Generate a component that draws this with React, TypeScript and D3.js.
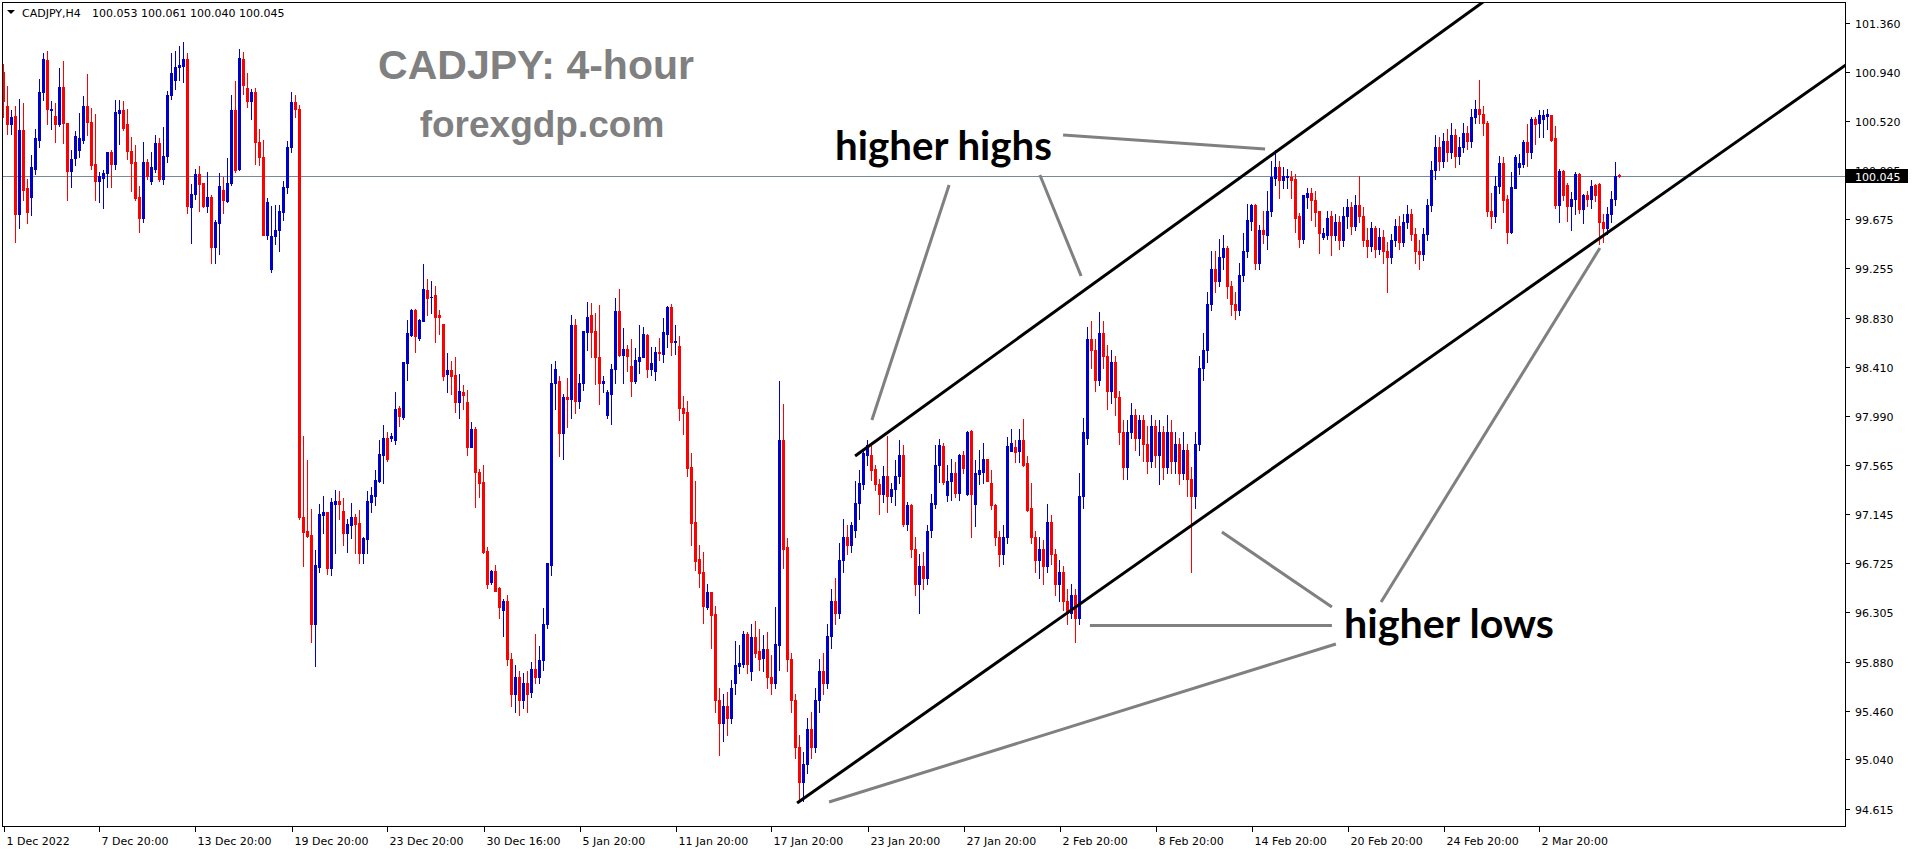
import React from 'react';
import * as d3 from 'd3';

// one row per H4 bar: [open, high, low, close]
type Bar = [number, number, number, number];

const decBars: Bar[] = [
  [100.94, 101.01, 100.55, 100.69], [100.65, 100.82, 100.41, 100.49], [100.49, 100.61, 100.41, 100.55],
  [100.56, 100.65, 99.48, 99.72], [99.72, 100.71, 99.6, 100.44], [100.44, 100.67, 99.84, 99.93],
  [99.94, 100.02, 99.64, 99.74], [99.87, 100.23, 99.71, 100.12], [100.11, 100.45, 100.06, 100.37],
  [100.36, 100.88, 100.3, 100.77], [100.77, 101.1, 100.7, 101.05], [101.04, 101.12, 100.49, 100.62],
  [100.61, 100.69, 100.45, 100.62], [100.56, 100.67, 100.34, 100.49], [100.49, 100.97, 100.48, 100.81],
  [100.81, 101.03, 100.33, 100.5], [100.5, 100.5, 99.84, 100.09], [100.09, 100.27, 99.95, 100.19],
  [100.2, 100.43, 100.14, 100.39], [100.27, 100.59, 100.21, 100.37], [100.36, 100.73, 100.33, 100.65],
  [100.65, 100.92, 100.4, 100.51], [100.51, 100.63, 100.11, 100.14], [100.15, 100.58, 99.84, 100.0],
  [100.0, 100.08, 99.82, 100.05], [100.03, 100.1, 99.77, 100.07], [100.07, 100.25, 99.95, 100.25],
  [100.25, 100.27, 99.95, 100.15], [100.15, 100.7, 100.11, 100.6], [100.59, 100.7, 100.32, 100.61],
  [100.61, 100.69, 100.44, 100.46], [100.49, 100.62, 100.19, 100.26], [100.26, 100.38, 99.92, 100.16],
  [100.17, 100.31, 99.84, 99.86], [99.87, 99.96, 99.57, 99.69], [99.69, 100.34, 99.65, 100.17],
  [100.17, 100.19, 100.02, 100.05], [100.0, 100.25, 99.98, 100.12], [100.11, 100.4, 100.08, 100.33],
  [100.33, 100.37, 100.0, 100.02], [100.02, 100.47, 99.98, 100.22], [100.22, 100.78, 100.17, 100.74],
  [100.74, 101.1, 100.71, 100.93], [100.87, 101.12, 100.79, 100.98], [100.98, 101.16, 100.87, 101.0],
  [100.99, 101.2, 100.85, 101.05], [101.05, 101.1, 99.73, 99.79], [99.78, 99.98, 99.47, 99.89],
  [99.89, 100.11, 99.85, 100.06], [100.06, 100.13, 99.75, 99.98], [99.99, 99.99, 99.78, 99.79],
  [99.79, 100.08, 99.74, 99.87], [99.87, 99.88, 99.3, 99.44], [99.44, 99.67, 99.3, 99.65],
  [99.64, 100.07, 99.38, 99.96], [99.93, 100.04, 99.73, 99.84], [99.83, 100.2, 99.82, 99.99],
  [99.99, 100.74, 99.97, 100.61], [100.61, 100.86, 100.08, 100.1], [100.11, 101.14, 100.1, 101.06],
  [101.05, 101.11, 100.75, 100.83], [100.8, 100.93, 100.64, 100.69], [100.69, 100.79, 100.54, 100.77],
  [100.77, 100.8, 100.15, 100.34], [100.34, 100.45, 100.14, 100.21], [100.21, 100.36, 99.54, 99.54],
  [99.54, 99.86, 99.51, 99.82], [99.25, 99.79, 99.22, 99.53], [99.53, 99.8, 99.46, 99.58],
  [99.58, 99.8, 99.4, 99.75], [99.74, 100.0, 99.67, 99.95], [99.95, 100.35, 99.9, 100.3],
  [100.3, 100.77, 100.25, 100.68], [100.68, 100.74, 100.55, 100.62], [100.62, 100.66, 97.1, 97.12],
  [97.12, 97.82, 96.7, 96.99], [97.0, 97.61, 96.95, 96.96], [96.97, 97.19, 96.05, 96.2],
  [96.2, 96.84, 95.84, 96.71], [96.69, 97.23, 96.65, 97.15], [97.14, 97.3, 96.98, 97.16],
  [97.16, 97.16, 96.63, 96.68], [96.68, 97.28, 96.62, 97.25], [97.23, 97.35, 96.81, 97.26],
  [97.26, 97.34, 97.1, 97.23], [97.17, 97.28, 96.88, 96.98], [96.98, 97.1, 96.82, 97.06],
  [97.05, 97.24, 96.94, 97.12], [97.12, 97.15, 96.81, 97.06], [97.07, 97.18, 96.73, 96.81],
  [96.81, 96.95, 96.73, 96.94], [96.93, 97.34, 96.81, 97.26], [97.25, 97.38, 97.16, 97.31],
  [97.3, 97.52, 97.22, 97.44], [97.43, 97.78, 97.42, 97.66], [97.65, 97.91, 97.41, 97.8],
  [97.8, 97.85, 97.6, 97.62], [97.8, 97.84, 97.77, 97.82], [97.78, 98.19, 97.75, 98.05],
  [98.06, 98.07, 97.9, 97.99], [97.98, 98.45, 97.96, 98.45], [98.44, 98.81, 98.3, 98.7],
  [98.68, 98.91, 98.67, 98.9], [98.9, 98.91, 98.54, 98.67], [98.66, 98.82, 98.64, 98.81],
  [98.8, 99.29, 98.8, 99.08], [99.07, 99.16, 98.85, 99.0], [99.01, 99.15, 98.87, 99.01],
  [99.03, 99.1, 98.62, 98.84], [98.85, 98.9, 98.69, 98.84], [98.78, 98.78, 98.3, 98.33],
  [98.35, 98.53, 98.19, 98.38], [98.38, 98.46, 98.18, 98.33], [98.34, 98.49, 98.02, 98.11],
  [98.11, 98.35, 97.97, 98.2], [98.19, 98.25, 98.05, 98.17], [98.11, 98.21, 97.65, 97.72],
  [97.72, 97.94, 97.72, 97.88], [97.88, 97.89, 97.21, 97.51], [97.51, 97.53, 97.29, 97.41],
  [97.42, 97.57, 96.81, 96.82], [96.83, 96.86, 96.51, 96.55],
];

const janBars: Bar[] = [
  [96.56, 96.67, 96.55, 96.66], [96.66, 96.71, 96.49, 96.49], [96.51, 96.52, 96.25, 96.35],
  [96.32, 96.42, 96.1, 96.4], [96.4, 96.45, 95.85, 95.9], [95.9, 95.95, 95.5, 95.6],
  [95.6, 95.85, 95.45, 95.75], [95.75, 95.8, 95.42, 95.55], [95.55, 95.78, 95.48, 95.7],
  [95.7, 95.8, 95.45, 95.6], [95.62, 95.88, 95.58, 95.82], [95.82, 96.12, 95.7, 95.75],
  [95.75, 96.01, 95.7, 95.89], [95.89, 96.34, 95.81, 96.2], [96.2, 96.73, 96.17, 96.73],
  [96.71, 98.43, 96.62, 98.27], [98.27, 98.46, 98.05, 98.39], [98.29, 98.33, 97.64, 97.84],
  [97.84, 98.18, 97.62, 98.15], [98.15, 98.31, 97.89, 98.13], [98.13, 98.85, 97.97, 98.77],
  [98.77, 98.82, 98.01, 98.12], [98.12, 98.35, 98.06, 98.27], [98.27, 98.72, 98.21, 98.72],
  [98.71, 98.97, 98.55, 98.84], [98.85, 98.96, 98.49, 98.71], [98.72, 98.87, 98.26, 98.49],
  [98.49, 98.94, 98.09, 98.27], [98.27, 98.33, 98.19, 98.29], [98.0, 98.21, 97.97, 98.19],
  [98.18, 98.43, 97.92, 98.39], [98.39, 99.0, 98.27, 98.89], [98.89, 99.08, 98.5, 98.51],
  [98.51, 98.74, 98.27, 98.56], [98.56, 98.6, 98.37, 98.5], [98.42, 98.65, 98.16, 98.29],
  [98.29, 98.57, 98.27, 98.47], [98.46, 98.77, 98.36, 98.49], [98.49, 98.75, 98.49, 98.69],
  [98.68, 98.69, 98.32, 98.39], [98.39, 98.58, 98.34, 98.44], [98.37, 98.58, 98.3, 98.54],
  [98.54, 98.66, 98.47, 98.53], [98.52, 98.83, 98.45, 98.71], [98.69, 98.93, 98.58, 98.92],
  [98.92, 98.95, 98.51, 98.62], [98.62, 98.77, 98.52, 98.63], [98.59, 98.67, 97.95, 98.06],
  [98.06, 98.16, 97.83, 98.01], [98.02, 98.12, 97.47, 97.54], [97.55, 97.67, 96.88, 97.07],
  [97.08, 97.43, 96.67, 96.74], [96.76, 96.88, 96.52, 96.64], [96.65, 96.82, 96.21, 96.36],
  [96.35, 96.55, 96.33, 96.48], [96.48, 96.48, 96.0, 96.28], [96.29, 96.36, 95.45, 95.55],
  [95.55, 95.65, 95.08, 95.35], [95.35, 95.6, 95.2, 95.5], [95.5, 95.62, 95.25, 95.4],
  [95.4, 95.72, 95.35, 95.65], [95.7, 96.06, 95.6, 95.85], [95.84, 96.02, 95.78, 95.87],
  [95.86, 96.14, 95.83, 96.12], [96.12, 96.13, 95.78, 95.86], [95.8, 96.2, 95.72, 96.09],
  [96.09, 96.23, 95.92, 95.95], [95.97, 96.16, 95.81, 95.9], [95.91, 96.11, 95.8, 95.99],
  [95.99, 96.13, 95.65, 95.75], [95.75, 95.94, 95.6, 95.7], [95.7, 96.35, 95.65, 96.03],
  [96.02, 98.29, 95.81, 97.78], [97.78, 98.09, 96.68, 96.85], [96.86, 96.94, 95.8, 95.9],
  [95.9, 95.95, 95.45, 95.55], [95.55, 95.6, 95.05, 95.15], [95.15, 95.25, 94.7, 94.85],
  [94.85, 95.1, 94.68, 95.0], [95.0, 95.4, 94.92, 95.3], [95.3, 95.45, 95.05, 95.15],
  [95.15, 95.65, 95.1, 95.55], [95.55, 95.9, 95.45, 95.8], [95.8, 95.95, 95.6, 95.7],
  [95.7, 96.2, 95.65, 96.1], [96.1, 96.5, 96.0, 96.4], [96.4, 96.6, 96.2, 96.3],
  [96.3, 96.9, 96.25, 96.75], [96.75, 97.1, 96.65, 96.95], [96.95, 97.05, 96.8, 96.88],
  [96.88, 97.08, 96.82, 97.05], [97.01, 97.43, 96.95, 97.24], [97.24, 97.52, 97.1, 97.41],
  [97.4, 97.7, 97.36, 97.67], [97.65, 97.78, 97.57, 97.74], [97.65, 97.73, 97.44, 97.52],
  [97.53, 97.57, 97.35, 97.4], [97.4, 97.45, 97.15, 97.32], [97.32, 97.56, 97.25, 97.47],
  [97.47, 97.82, 97.16, 97.3], [97.3, 97.41, 97.25, 97.36], [97.36, 97.61, 97.22, 97.47],
  [97.47, 97.78, 97.41, 97.65], [97.65, 97.74, 97.04, 97.06], [97.06, 97.25, 97.01, 97.22],
  [97.22, 97.23, 96.78, 96.85], [96.85, 96.95, 96.45, 96.55], [96.55, 96.8, 96.3, 96.7],
  [96.7, 96.82, 96.5, 96.6], [96.6, 97.05, 96.55, 97.0], [97.01, 97.32, 96.95, 97.24],
  [97.23, 97.74, 97.2, 97.57], [97.57, 97.79, 97.42, 97.74], [97.73, 97.76, 97.4, 97.42],
  [97.31, 97.57, 97.26, 97.43], [97.43, 97.62, 97.27, 97.5], [97.5, 97.59, 97.29, 97.33],
  [97.33, 97.66, 97.27, 97.65], [97.65, 97.69, 97.5, 97.54], [97.32, 97.86, 97.31, 97.85],
  [97.86, 97.87, 96.95, 97.32], [97.23, 97.61, 97.04, 97.5], [97.49, 97.7, 97.4, 97.52],
  [97.51, 97.76, 97.41, 97.62], [97.62, 97.62, 97.43, 97.43], [97.41, 97.52, 97.19, 97.22],
  [97.22, 97.23, 96.88, 96.95], [96.95, 97.0, 96.7, 96.8], [96.8, 97.05, 96.72, 96.95],
  [96.95, 97.81, 96.9, 97.73], [97.69, 97.88, 97.69, 97.76],
];

const febBars: Bar[] = [
  [97.72, 97.78, 97.59, 97.68], [97.69, 97.88, 97.59, 97.78], [97.78, 97.96, 97.56, 97.57],
  [97.58, 97.64, 97.17, 97.18], [97.2, 97.41, 96.9, 96.95], [96.95, 97.0, 96.65, 96.75],
  [96.75, 96.95, 96.6, 96.85], [96.85, 96.92, 96.55, 96.7], [96.7, 97.23, 96.65, 97.08],
  [97.08, 97.14, 96.72, 96.8], [96.8, 96.85, 96.45, 96.55], [96.55, 96.75, 96.4, 96.65],
  [96.65, 96.7, 96.32, 96.4], [96.4, 96.5, 96.2, 96.3], [96.3, 96.55, 96.25, 96.45],
  [96.45, 96.5, 96.05, 96.25], [96.25, 97.5, 96.2, 97.3], [97.3, 97.97, 97.2, 97.85],
  [97.8, 98.75, 97.75, 98.65], [98.65, 98.8, 98.4, 98.55], [98.55, 98.65, 98.2, 98.3],
  [98.3, 98.88, 98.25, 98.7], [98.7, 98.8, 98.4, 98.5], [98.5, 98.6, 98.05, 98.2],
  [98.2, 98.55, 98.1, 98.45], [98.45, 98.5, 98.0, 98.15], [98.15, 98.2, 97.75, 97.85],
  [97.85, 97.95, 97.45, 97.55], [97.55, 97.95, 97.45, 97.85], [97.85, 98.1, 97.8, 98.0],
  [98.0, 98.05, 97.7, 97.8], [97.8, 98.0, 97.65, 97.95], [97.95, 98.0, 97.6, 97.75],
  [97.75, 97.9, 97.5, 97.6], [97.6, 98.0, 97.55, 97.9], [97.9, 97.95, 97.55, 97.65],
  [97.65, 97.95, 97.4, 97.85], [97.85, 97.9, 97.45, 97.55], [97.55, 98.0, 97.5, 97.85],
  [97.85, 97.95, 97.5, 97.6], [97.6, 97.85, 97.5, 97.75], [97.75, 97.8, 97.4, 97.5],
  [97.5, 97.85, 97.45, 97.7], [97.7, 97.75, 97.3, 97.45], [97.45, 97.55, 96.65, 97.3],
  [97.3, 97.85, 97.2, 97.75], [97.75, 98.5, 97.7, 98.4], [98.4, 98.7, 98.3, 98.55],
  [98.55, 99.05, 98.45, 98.95], [98.95, 99.4, 98.9, 99.25], [99.25, 99.4, 99.05, 99.15],
  [99.15, 99.51, 99.1, 99.35], [99.35, 99.54, 99.25, 99.43], [99.43, 99.45, 99.0, 99.1],
  [99.1, 99.15, 98.85, 98.95], [98.95, 99.05, 98.82, 98.9], [98.9, 99.3, 98.85, 99.2],
  [99.2, 99.56, 99.15, 99.4], [99.4, 99.81, 99.35, 99.67], [99.66, 99.81, 99.58, 99.8],
  [99.8, 99.81, 99.25, 99.3], [99.3, 99.63, 99.25, 99.58], [99.58, 99.75, 99.47, 99.55],
  [99.54, 99.92, 99.42, 99.75], [99.75, 100.18, 99.7, 100.04], [100.03, 100.27, 99.97, 100.12],
  [100.12, 100.18, 99.86, 100.01], [100.01, 100.12, 99.94, 100.05], [100.04, 100.11, 99.94, 100.05],
  [100.04, 100.09, 99.86, 100.01], [100.02, 100.06, 99.57, 99.69], [99.7, 99.73, 99.44, 99.51],
  [99.51, 99.88, 99.47, 99.88], [99.87, 99.94, 99.77, 99.9], [99.9, 99.94, 99.67, 99.84],
  [99.84, 99.92, 99.62, 99.74], [99.75, 99.75, 99.39, 99.56], [99.52, 99.6, 99.51, 99.56],
  [99.54, 99.75, 99.51, 99.69], [99.7, 99.75, 99.37, 99.54], [99.54, 99.72, 99.5, 99.65],
  [99.65, 99.7, 99.42, 99.5], [99.5, 99.78, 99.45, 99.7], [99.7, 99.85, 99.6, 99.78],
  [99.78, 99.82, 99.55, 99.62], [99.62, 99.88, 99.58, 99.8], [99.8, 100.05, 99.65, 99.7],
  [99.7, 99.78, 99.45, 99.5], [99.5, 99.6, 99.35, 99.45], [99.45, 99.65, 99.4, 99.6],
  [99.6, 99.62, 99.35, 99.42], [99.42, 99.6, 99.38, 99.52], [99.52, 99.58, 99.3, 99.4],
  [99.4, 99.48, 99.05, 99.35], [99.35, 99.55, 99.3, 99.5], [99.5, 99.68, 99.45, 99.62],
  [99.62, 99.7, 99.42, 99.48], [99.48, 99.72, 99.45, 99.65], [99.65, 99.8, 99.6, 99.72],
  [99.72, 99.76, 99.5, 99.55], [99.55, 99.6, 99.3, 99.4], [99.4, 99.5, 99.25, 99.38],
  [99.38, 99.6, 99.33, 99.55], [99.55, 99.85, 99.5, 99.8], [99.8, 100.18, 99.75, 100.1],
  [100.1, 100.4, 100.02, 100.3], [100.3, 100.38, 100.1, 100.18], [100.18, 100.42, 100.12, 100.35],
  [100.35, 100.45, 100.18, 100.25], [100.25, 100.5, 100.2, 100.4], [100.4, 100.45, 100.12, 100.22],
  [100.22, 100.38, 100.15, 100.3], [100.3, 100.5, 100.25, 100.42], [100.42, 100.48, 100.28, 100.35],
  [100.35, 100.62, 100.3, 100.55], [100.55, 100.7, 100.5, 100.62], [100.62, 100.87, 100.5, 100.58],
  [100.58, 100.65, 100.4, 100.5], [100.5, 100.52, 99.7, 99.75], [99.75, 99.9, 99.6, 99.7],
];

const marBars: Bar[] = [
  [99.7, 100.05, 99.65, 99.96], [99.96, 100.22, 99.9, 100.16], [100.16, 100.21, 99.74, 99.84],
  [99.85, 99.88, 99.47, 99.57], [99.57, 100.08, 99.56, 99.95], [99.94, 100.23, 99.94, 100.21],
  [100.12, 100.24, 100.06, 100.16], [100.15, 100.36, 100.12, 100.34], [100.34, 100.49, 100.13, 100.25],
  [100.25, 100.55, 100.2, 100.54], [100.54, 100.55, 100.32, 100.49], [100.5, 100.61, 100.38, 100.57],
  [100.54, 100.61, 100.38, 100.57], [100.56, 100.62, 100.45, 100.58], [100.57, 100.57, 100.35, 100.36],
  [100.37, 100.48, 99.77, 99.8], [99.8, 100.11, 99.65, 100.09], [100.09, 100.1, 99.84, 99.88],
  [99.97, 99.99, 99.66, 99.79], [99.79, 99.91, 99.58, 99.85], [99.85, 100.08, 99.72, 100.06],
  [100.06, 100.07, 99.73, 99.76], [99.76, 99.89, 99.64, 99.88], [99.88, 99.92, 99.79, 99.85],
  [99.85, 100.01, 99.77, 99.96], [99.97, 99.98, 99.83, 99.88], [99.98, 99.99, 99.46, 99.65],
  [99.65, 99.72, 99.48, 99.6], [99.6, 99.78, 99.55, 99.72], [99.72, 99.92, 99.65, 99.85],
  [99.85, 100.17, 99.8, 100.05], [100.053, 100.061, 100.04, 100.045],
];

const priceTicks = [
  101.36, 100.94, 100.52, 100.095, 99.675, 99.255, 98.83, 98.41, 97.99,
  97.565, 97.145, 96.725, 96.305, 95.88, 95.46, 95.04, 94.615,
];

// [bar index, label]
const timeLabels: [number, string][] = [
  [0, '1 Dec 2022'], [24, '7 Dec 20:00'], [48, '13 Dec 20:00'], [72, '19 Dec 20:00'],
  [96, '23 Dec 20:00'], [120, '30 Dec 16:00'], [144, '5 Jan 20:00'], [168, '11 Jan 20:00'],
  [192, '17 Jan 20:00'], [216, '23 Jan 20:00'], [240, '27 Jan 20:00'], [264, '2 Feb 20:00'],
  [288, '8 Feb 20:00'], [312, '14 Feb 20:00'], [336, '20 Feb 20:00'], [360, '24 Feb 20:00'],
  [384, '2 Mar 20:00'],
];

const symbol = 'CADJPY,H4';
const lastQuote = '100.053 100.061 100.040 100.045';
const lastPrice = 100.045;

// trend channel rays: two anchors [bar, price], extended to the right
const channelLines: [number, number][][] = [
  [[212.9, 97.644], [332.9, 100.622]],
  [[198.4, 94.666], [399.1, 99.515]],
];

// grey pointer lines for the annotations
const pointerLines: [number, number][][] = [
  [[264.9, 100.399], [315.4, 100.279]],
  [[236.4, 99.97], [217.1, 97.953]],
  [[259.1, 100.056], [269.4, 99.189]],
  [[332.1, 96.19], [271.6, 96.19]],
  [[333.1, 96.031], [206.4, 94.675]],
  [[332.1, 96.348], [304.6, 96.992]],
  [[344.4, 96.391], [399.1, 99.429]],
];

const W = 1916;
const H = 850;
const plot = { left: 2.5, top: 2.5, right: 1845.5, bottom: 826.5 };
const bullColor = '#0000CD';
const bearColor = '#FF0000';
const axisFont = 'DejaVu Sans, sans-serif';

export default function App() {
  const bars = [...decBars, ...janBars, ...febBars, ...marBars];

  const x = d3.scaleLinear().domain([0, 460]).range([3.5, 1843.5]);
  const y = d3.scaleLinear().domain([94.615, 101.36]).range([809, 23]);

  const ray = (pts: [number, number][]) => {
    const [[b0, p0], [b1, p1]] = pts;
    const slope = (p1 - p0) / (b1 - b0);
    const bEnd = 470;
    return { x1: x(b0), y1: y(p0), x2: x(bEnd), y2: y(p0 + slope * (bEnd - b0)) };
  };

  const lastY = Math.round(y(lastPrice)) + 0.5;

  return (
    <div style={{ position: 'fixed', left: 0, top: 0, background: '#fff' }}>
      <svg width={W} height={H} style={{ display: 'block', background: '#fff' }}>
        <defs>
          <clipPath id="plot-clip">
            <rect x={3} y={3} width={plot.right - 3.5} height={plot.bottom - 3.5} />
          </clipPath>
        </defs>

        {/* watermark */}
        <text x={536} y={79} textAnchor="middle" fill="#808080"
          style={{ font: 'bold 41px "Liberation Sans", Arial, sans-serif' }}>CADJPY: 4-hour</text>
        <text x={542} y={137} textAnchor="middle" fill="#808080"
          style={{ font: 'bold 37px "Liberation Sans", Arial, sans-serif' }}>forexgdp.com</text>

        {/* current price line */}
        <line x1={plot.left} x2={plot.right} y1={lastY} y2={lastY} stroke="#778899" strokeWidth={1} />

        {/* candles */}
        <g clipPath="url(#plot-clip)" shapeRendering="crispEdges">
          {bars.map(([o, h, l, c], i) => {
            const cx = x(i);
            const col = c >= o ? bullColor : bearColor;
            const top = Math.round(y(Math.max(o, c)));
            const bot = Math.round(y(Math.min(o, c)));
            const wt = Math.round(y(h));
            const wb = Math.round(y(l));
            return (
              <g key={i}>
                <rect x={cx - 0.5} y={wt} width={1} height={Math.max(1, wb - wt + 1)} fill={col} />
                <rect x={cx - 1.5} y={top} width={3} height={Math.max(1, bot - top + 1)} fill={col} />
              </g>
            );
          })}
        </g>

        {/* channel and pointer lines */}
        <g clipPath="url(#plot-clip)">
          {channelLines.map((pts, k) => (
            <line key={k} {...ray(pts)} stroke="#000" strokeWidth={3} />
          ))}
          {pointerLines.map(([[b0, p0], [b1, p1]], k) => (
            <line key={k} x1={x(b0)} y1={y(p0)} x2={x(b1)} y2={y(p1)} stroke="#808080" strokeWidth={3} />
          ))}
        </g>

        {/* annotations */}
        <text x={835} y={160} fill="#000" textLength={217} lengthAdjust="spacingAndGlyphs"
          style={{ font: 'bold 40px Lato, "Open Sans", sans-serif' }}>higher highs</text>
        <text x={1344} y={638} fill="#000" textLength={210} lengthAdjust="spacingAndGlyphs"
          style={{ font: 'bold 40px Lato, "Open Sans", sans-serif' }}>higher lows</text>

        {/* frame */}
        <rect x={plot.left} y={plot.top} width={plot.right - plot.left} height={plot.bottom - plot.top}
          fill="none" stroke="#000" strokeWidth={1} shapeRendering="crispEdges" />

        {/* price axis */}
        <g style={{ font: `11px ${axisFont}` }} shapeRendering="crispEdges">
          {priceTicks.map((p) => {
            const ty = Math.round(y(p)) + 0.5;
            return (
              <g key={p}>
                <line x1={plot.right} x2={plot.right + 4} y1={ty} y2={ty} stroke="#000" />
                <text x={1855} y={ty + 4} fill="#000">{p.toFixed(3)}</text>
              </g>
            );
          })}
          <rect x={1846} y={lastY - 7.5} width={62} height={14} fill="#000" />
          <text x={1855} y={lastY + 4} fill="#fff">{lastPrice.toFixed(3)}</text>
        </g>

        {/* time axis */}
        <g style={{ font: `11px ${axisFont}` }} shapeRendering="crispEdges">
          {timeLabels.map(([b, label]) => {
            const tx = Math.round(x(b)) + 0.5;
            return (
              <g key={b}>
                <line x1={tx} x2={tx} y1={plot.bottom} y2={plot.bottom + 5} stroke="#000" />
                <text x={tx + 2} y={845} fill="#000">{label}</text>
              </g>
            );
          })}
        </g>

        {/* header */}
        <path d="M7,10 L15,10 L11,14 Z" fill="#000" />
        <text x={22} y={17} fill="#000" style={{ font: `11px ${axisFont}` }}>{symbol}</text>
        <text x={92} y={17} fill="#000" style={{ font: `11px ${axisFont}` }}>{lastQuote}</text>
      </svg>
    </div>
  );
}
